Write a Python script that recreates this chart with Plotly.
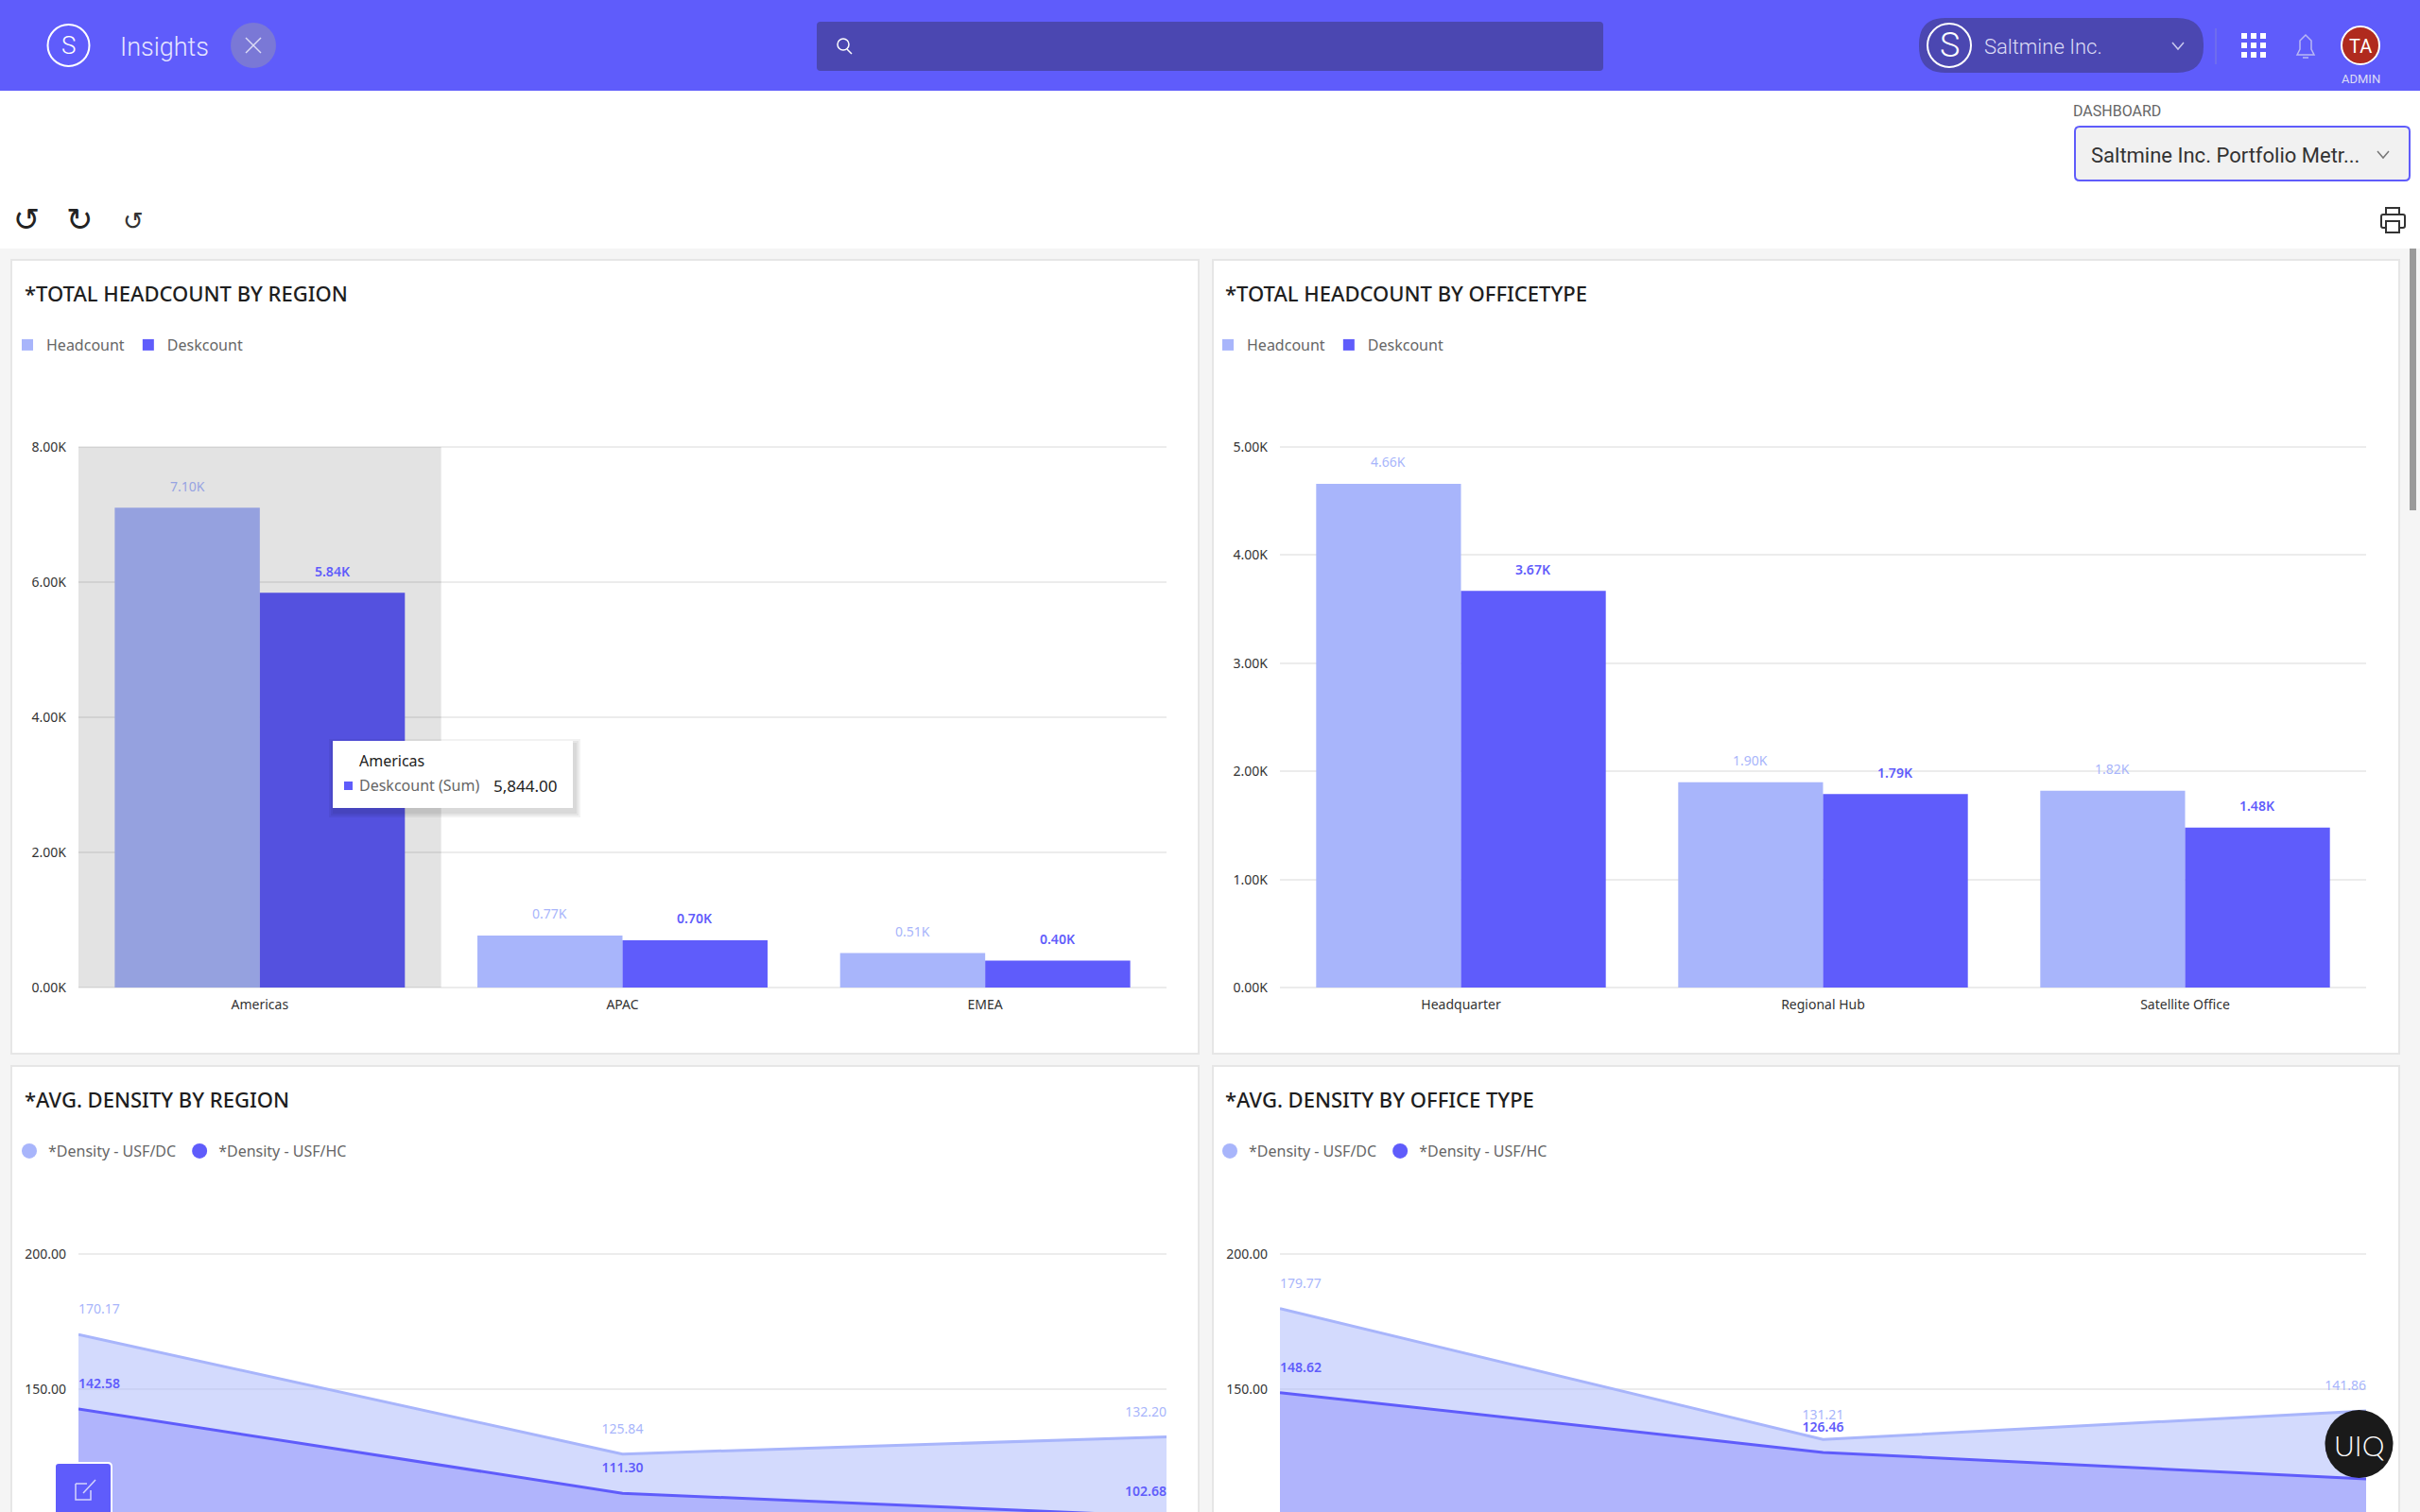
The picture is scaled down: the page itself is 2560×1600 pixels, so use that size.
import plotly.graph_objects as go

W, H = 2560, 1600
regions = ["Americas", "APAC", "EMEA"]
office_types = ["Headquarter", "Regional Hub", "Satellite Office"]
region_headcount = [7100, 770, 510]
region_deskcount = [5844, 700, 400]
office_headcount = [4660, 1900, 1820]
office_deskcount = [3670, 1790, 1480]
region_density_dc = [170.17, 125.84, 132.20]
region_density_hc = [142.58, 111.30, 102.68]
office_density_dc = [179.77, 131.21, 141.86]
office_density_hc = [148.62, 126.46, 116.60]
region_ticks = [0, 2000, 4000, 6000, 8000]
office_ticks = [0, 1000, 2000, 3000, 4000, 5000]
density_ticks = [150, 200]

LIGHT = "#a8b5fb"
DARK = "#5f5cfb"
FONT = "Noto Sans"
UI = "Roboto"


def px(x):
    return x / W


def py(y):
    return 1 - y / H


def k(v):
    return f"{v / 1000:.2f}K"


shapes, annos = [], []


def rect(x0, y0, x1, y1, fill, line=None, lw=0, layer="below"):
    shapes.append(dict(type="rect", xref="paper", yref="paper", x0=px(x0), x1=px(x1), y0=py(y1), y1=py(y0),
                       fillcolor=fill, line=dict(color=line or fill, width=lw), layer=layer))


def rrect(x0, y0, x1, y1, r, fill, line=None, lw=0, layer="below"):
    X0, X1, Y0, Y1 = px(x0), px(x1), py(y0), py(y1)
    rx, ry = r / W, r / H
    path = (f"M{X0 + rx},{Y0} L{X1 - rx},{Y0} Q{X1},{Y0} {X1},{Y0 - ry} L{X1},{Y1 + ry} Q{X1},{Y1} {X1 - rx},{Y1} "
            f"L{X0 + rx},{Y1} Q{X0},{Y1} {X0},{Y1 + ry} L{X0},{Y0 - ry} Q{X0},{Y0} {X0 + rx},{Y0} Z")
    shapes.append(dict(type="path", xref="paper", yref="paper", path=path, fillcolor=fill,
                       line=dict(color=line or fill, width=lw), layer=layer))


def circ(cx, cy, r, fill, line=None, lw=0, layer="above"):
    shapes.append(dict(type="circle", xref="paper", yref="paper", x0=px(cx - r), x1=px(cx + r), y0=py(cy + r), y1=py(cy - r),
                       fillcolor=fill, line=dict(color=line or fill, width=lw), layer=layer))


def poly(pts, color, lw=2, fill="rgba(0,0,0,0)", close=False, layer="above"):
    p = "M" + " L".join(f"{px(a)},{py(b)}" for a, b in pts) + (" Z" if close else "")
    shapes.append(dict(type="path", xref="paper", yref="paper", path=p, fillcolor=fill,
                       line=dict(color=color, width=lw), layer=layer))


def text(x, y, s, size, color, anchor="left", family=FONT, weight=None):
    font = dict(size=size, color=color, family=family)
    if weight:
        font["weight"] = weight
    annos.append(dict(xref="paper", yref="paper", x=px(x), y=py(y), text=s, showarrow=False, xanchor=anchor,
                      yanchor="middle", font=font, borderpad=0, borderwidth=0))


def bar_labels(values, side, color, weight, ax, dim_first=False):
    # one label per bar, placed from the bar's own data position on its axes
    for i, v in enumerate(values):
        c = color
        if dim_first and i == 0:
            c = "#97a3e2" if color == LIGHT else color
        annos.append(dict(xref="x" + ax, yref="y" + ax, x=i + side * 0.2, y=v, yshift=23, text=k(v), showarrow=False,
                          xanchor="center", yanchor="middle",
                          font=dict(size=14, color=c, family=FONT, weight=weight)))


# page
rect(0, 0, W, 96, DARK)
rect(0, 263, W, H, "#f5f5f5")
for x0, x1, y0, y1 in [(12, 1268, 275, 1115), (1283, 2538, 275, 1115), (12, 1268, 1128, 1640), (1283, 2538, 1128, 1640)]:
    rect(x0, y0, x1, y1, "#ffffff", "#e6e6e6", 2)
rect(2549, 263, 2556, 540, "#9a9a9a")

# header
circ(72.5, 48, 22, "rgba(0,0,0,0)", "#ffffff", 2)
text(72.5, 48, "S", 26, "#ffffff", "center", UI, 300)
text(127, 50, "Insights", 27, "#e6e6ff", "left", UI, 300)
circ(268, 48, 24, "#7a78d6")
poly([(260, 40), (276, 56)], "#dcdcf5", 1.5)
poly([(276, 40), (260, 56)], "#dcdcf5", 1.5)
rrect(864, 23, 1696, 75, 4, "#4b47b1")
circ(892, 47, 6, "rgba(0,0,0,0)", "#ffffff", 1.5)
poly([(896, 52), (901, 57)], "#ffffff", 1.5)
rrect(2030, 19, 2331, 77, 28, "#4b47b1")
circ(2062, 48, 23, "rgba(0,0,0,0)", "#ffffff", 2)
text(2062, 48, "S", 36, "#ffffff", "center", UI, 300)
text(2099, 49, "Saltmine Inc.", 22, "#dcdcf5", "left", UI, 300)
poly([(2298, 45), (2304, 52), (2310, 45)], "#c9c9ee", 1.5)
poly([(2344, 30), (2344, 68)], "#7f7de0", 1)
for gx in (2374, 2384, 2394):
    for gy in (38, 48, 58):
        rect(gx - 3, gy - 3, gx + 3, gy + 3, "#ffffff", layer="above")
poly([(2430, 58), (2433, 52), (2433, 43), (2439, 37), (2445, 43), (2445, 52), (2448, 58)], "#b9b8f3", 1.5, close=True)
poly([(2436, 61), (2442, 61)], "#b9b8f3", 1.5)
circ(2497, 48, 20, "#b02a1e", "#ffffff", 2)
text(2497, 49, "TA", 20, "#ffffff", "center", UI)
text(2497, 84, "ADMIN", 13, "#dcdcf5", "center", UI)

# dashboard selector
text(2193, 117, "DASHBOARD", 16, "#666666", "left", UI)
rrect(2195, 134, 2549, 191, 5, "#f1f1f1", DARK, 2)
text(2212, 164, "Saltmine Inc. Portfolio Metr...", 22, "#333333", "left", UI)
poly([(2515, 160), (2521, 167), (2527, 160)], "#777777", 1.5)

# toolbar
text(28, 232, "\u21ba", 34, "#222222", "center", "DejaVu Sans")
text(84, 232, "\u21bb", 34, "#222222", "center", "DejaVu Sans")
text(141, 234, "\u21ba", 26, "#333333", "center", "DejaVu Sans")
rect(2524, 220, 2538, 228, "#ffffff", "#333333", 2, "above")
rrect(2519, 227, 2544, 241, 2, "#ffffff", "#333333", 2, "above")
rect(2524, 234, 2538, 246, "#ffffff", "#333333", 2, "above")

# card titles
text(26, 310, "*TOTAL HEADCOUNT BY REGION", 22, "#1e1e1e", weight=500)
text(1296, 310, "*TOTAL HEADCOUNT BY OFFICETYPE", 22, "#1e1e1e", weight=500)
text(26, 1163, "*AVG. DENSITY BY REGION", 22, "#1e1e1e", weight=500)
text(1296, 1163, "*AVG. DENSITY BY OFFICE TYPE", 22, "#1e1e1e", weight=500)

bar_labels(region_headcount, -1, LIGHT, 400, "", dim_first=True)
bar_labels(region_deskcount, 1, DARK, 600, "")
bar_labels(office_headcount, -1, LIGHT, 400, "2")
bar_labels(office_deskcount, 1, DARK, 600, "2")


def bars(cats, values, name, color, ax, lg):
    return go.Bar(x=cats, y=values, name=name, marker=dict(color=color, line=dict(width=0)),
                  xaxis="x" + ax, yaxis="y" + ax, legend=lg)


def area(cats, values, name, color, fill, ax, weight):
    return go.Scatter(x=cats, y=values, name=name, mode="lines+text", line=dict(color=color, width=3),
                      fill="tozeroy", fillcolor=fill, text=[f"{v:.2f}<br> " for v in values],
                      textposition=["top right", "top center", "top left"],
                      textfont=dict(size=14, color=color, family=FONT, weight=weight), showlegend=False,
                      xaxis="x" + ax, yaxis="y" + ax)


def dot(name, color, ax, lg):
    return go.Scatter(x=[None], y=[None], name=name, mode="markers", marker=dict(size=16, color=color),
                      xaxis="x" + ax, yaxis="y" + ax, legend=lg)


traces = [
    bars(regions, region_headcount, "Headcount", LIGHT, "", "legend"),
    bars(regions, region_deskcount, "Deskcount", DARK, "", "legend"),
    bars(office_types, office_headcount, "Headcount", LIGHT, "2", "legend2"),
    bars(office_types, office_deskcount, "Deskcount", DARK, "2", "legend2"),
    area(regions, region_density_dc, "*Density - USF/DC", LIGHT, "rgba(168,181,251,0.5)", "3", 400),
    area(regions, region_density_hc, "*Density - USF/HC", DARK, "rgba(95,92,251,0.3)", "3", 600),
    dot("*Density - USF/DC", LIGHT, "3", "legend3"),
    dot("*Density - USF/HC", DARK, "3", "legend3"),
    area(office_types, office_density_dc, "*Density - USF/DC", LIGHT, "rgba(168,181,251,0.5)", "4", 400),
    area(office_types, office_density_hc, "*Density - USF/HC", DARK, "rgba(95,92,251,0.3)", "4", 600),
    dot("*Density - USF/DC", LIGHT, "4", "legend4"),
    dot("*Density - USF/HC", DARK, "4", "legend4"),
]

fig = go.Figure(traces)

# hover highlight and tooltip
shapes.append(dict(type="rect", xref="x", yref="y", x0=-0.5, x1=0.5, y0=0, y1=8000,
                   fillcolor="rgba(0,0,0,0.11)", line=dict(width=0), layer="above"))
for grow in (6, 4, 2):
    rect(354 - grow, 788 - grow, 608 + grow, 859 + grow, "rgba(0,0,0,0.05)", layer="above")
rect(352, 784, 606, 855, "#ffffff", layer="above")
rect(364, 827, 373, 836, DARK, layer="above")
text(380, 805, regions[0], 16, "#222222")
text(380, 831, "Deskcount (Sum)", 16, "#666666")
text(522, 831, f"{region_deskcount[0]:,.2f}", 17, "#222222")

# floating widgets
rrect(58, 1548, 118, 1640, 4, DARK, "#ffffff", 2, "above")
poly([(80, 1570), (92, 1570)], "#d5d4fb", 1.5)
poly([(80, 1570), (80, 1587), (96, 1587), (96, 1577)], "#d5d4fb", 1.5)
poly([(88, 1580), (101, 1566)], "#d5d4fb", 1.5)
circ(2495.5, 1528, 36, "#1a1a1a")
text(2495.5, 1529, "UIQ", 30, "#ffffff", "center", "Lato", 300)


def yax(domain, rng, vals, labels, anchor):
    return dict(domain=domain, range=rng, tickmode="array", tickvals=vals, ticktext=labels, anchor=anchor,
                gridcolor="#ececec", gridwidth=2, zeroline=False, showline=False, ticks="", ticklabelstandoff=12,
                automargin=False, tickfont=dict(size=14, color="#333333", family=FONT))


def xax(domain, rng, anchor, show=True):
    return dict(domain=domain, range=rng, anchor=anchor, type="category", showgrid=False, zeroline=False,
                showline=False, ticks="", showticklabels=show, ticklabelstandoff=5, automargin=False,
                tickfont=dict(size=14, color="#333333", family=FONT))


left = [px(83), px(1234)]
right = [px(1354), px(2503)]
# axis spans a few pixels past the first and last gridline so that those gridlines are drawn
PAD = 3
bar_dom = [py(1045 + PAD), py(473 - PAD)]
dens_dom = [0, py(1327 - PAD)]


def bar_range(top):
    unit = top / (1045 - 473)
    return [-PAD * unit, top + PAD * unit]


DENS_UNIT = 50 / 142.7
dens_range = [200 - (1600 - 1327) * DENS_UNIT, 200 + PAD * DENS_UNIT]


def leg(x, y):
    return dict(orientation="h", x=px(x), y=py(y), xanchor="left", yanchor="top", bgcolor="rgba(0,0,0,0)",
                font=dict(size=16, color="#666666", family=FONT), itemclick=False, itemdoubleclick=False)


fig.update_layout(
    width=W, height=H, margin=dict(l=0, r=0, t=0, b=0, pad=0), paper_bgcolor="#ffffff", plot_bgcolor="rgba(0,0,0,0)",
    barmode="group", bargap=0.2, bargroupgap=0, hovermode=False,
    xaxis=xax(left, [-0.5, 2.5], "y"),
    yaxis=yax(bar_dom, bar_range(8000), region_ticks, [k(v) for v in region_ticks], "x"),
    xaxis2=xax(right, [-0.5, 2.5], "y2"),
    yaxis2=yax(bar_dom, bar_range(5000), office_ticks, [k(v) for v in office_ticks], "x2"),
    xaxis3=xax(left, [0, 2], "y3", False),
    yaxis3=yax(dens_dom, dens_range, density_ticks, [f"{v:.2f}" for v in density_ticks], "x3"),
    xaxis4=xax(right, [0, 2], "y4", False),
    yaxis4=yax(dens_dom, dens_range, density_ticks, [f"{v:.2f}" for v in density_ticks], "x4"),
    legend=leg(9, 348), legend2=leg(1279, 348), legend3=leg(11, 1201), legend4=leg(1281, 1201),
    shapes=shapes, annotations=annos,
)

fig.write_html("out.html", config=dict(displayModeBar=False, responsive=False),
               post_script="document.body.style.margin='0';document.documentElement.style.overflow='hidden';")
